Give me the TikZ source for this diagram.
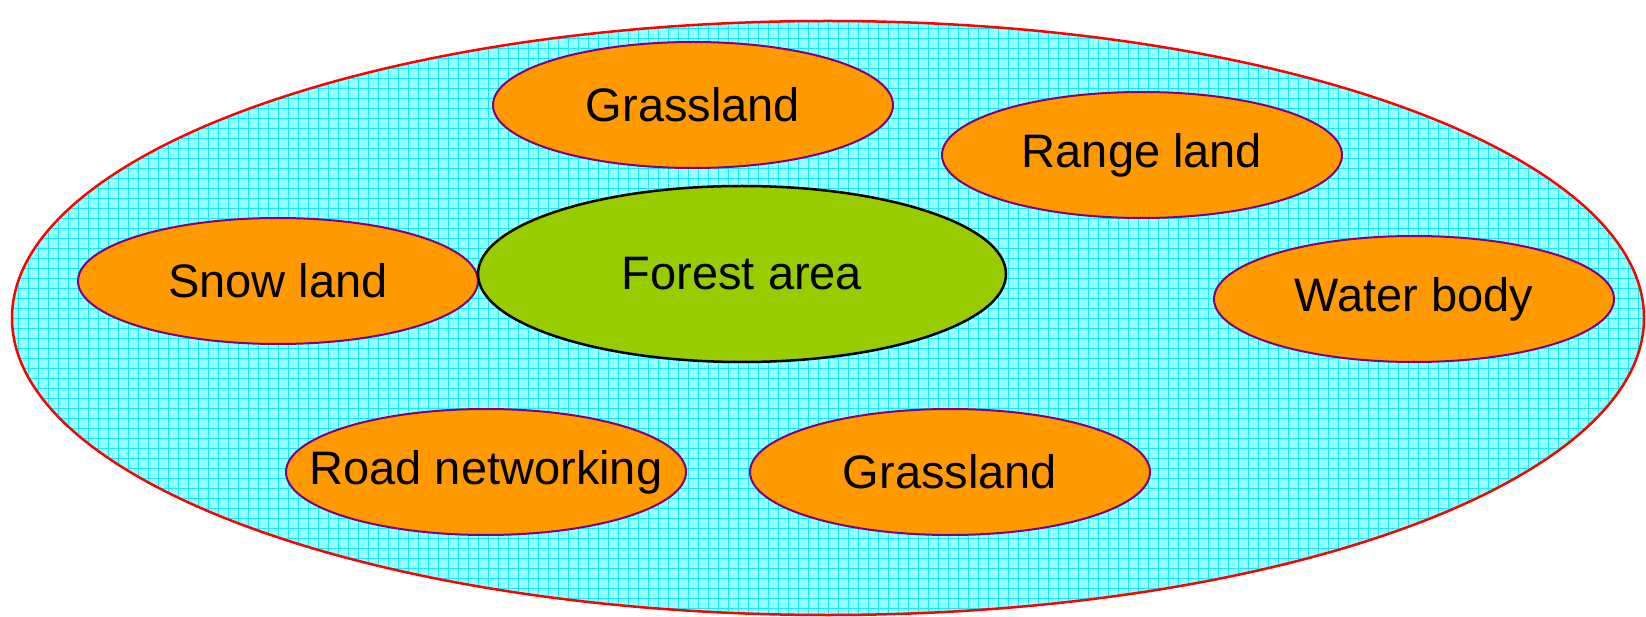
\documentclass[tikz,border=0pt]{standalone}
\usepackage{fontspec}
\setmainfont{Liberation Sans}
\usetikzlibrary{shapes.geometric}

\definecolor{landorange}{RGB}{255,153,0}
\definecolor{landpurple}{RGB}{128,0,128}
\definecolor{forestgreen}{RGB}{153,204,0}
\definecolor{seacyan}{RGB}{150,255,255}
\definecolor{gridcyan}{RGB}{20,235,255}

\begin{document}
\begin{tikzpicture}[x=1pt,y=-1pt,
  region/.style={ellipse,draw=red,line width=2.5pt,fill=seacyan,minimum width=1632pt,minimum height=594pt,inner sep=0pt,
    path picture={\draw[gridcyan,line width=0.6pt,step=10pt] (path picture bounding box.south west) grid (path picture bounding box.north east);}},
  land/.style={ellipse,draw=landpurple,line width=2pt,fill=landorange,minimum width=400pt,minimum height=126pt,inner sep=0pt,inner xsep=-40pt,font=\fontsize{47}{56}\selectfont},
  forest/.style={ellipse,draw=black,line width=2.5pt,fill=forestgreen,minimum width=528pt,minimum height=176pt,inner sep=0pt,font=\fontsize{47}{56}\selectfont}]
\useasboundingbox (0,0) rectangle (1646,617);

\node[region] at (828,318) (area) {};

\node[land] at (693,105) (grass1) {Grassland};
\node[land] at (1142,155) (range) {Range land};
\node[land] at (278,281) (snow) {Snow land};
\node[forest] at (742,274) (forestarea) {Forest area};
\node[land] at (1414,299) (water) {Water body};
\node[land] at (486,472) (road) {Road networking};
\node[land] at (950,472) (grass2) {Grassland};
\end{tikzpicture}
\end{document}
